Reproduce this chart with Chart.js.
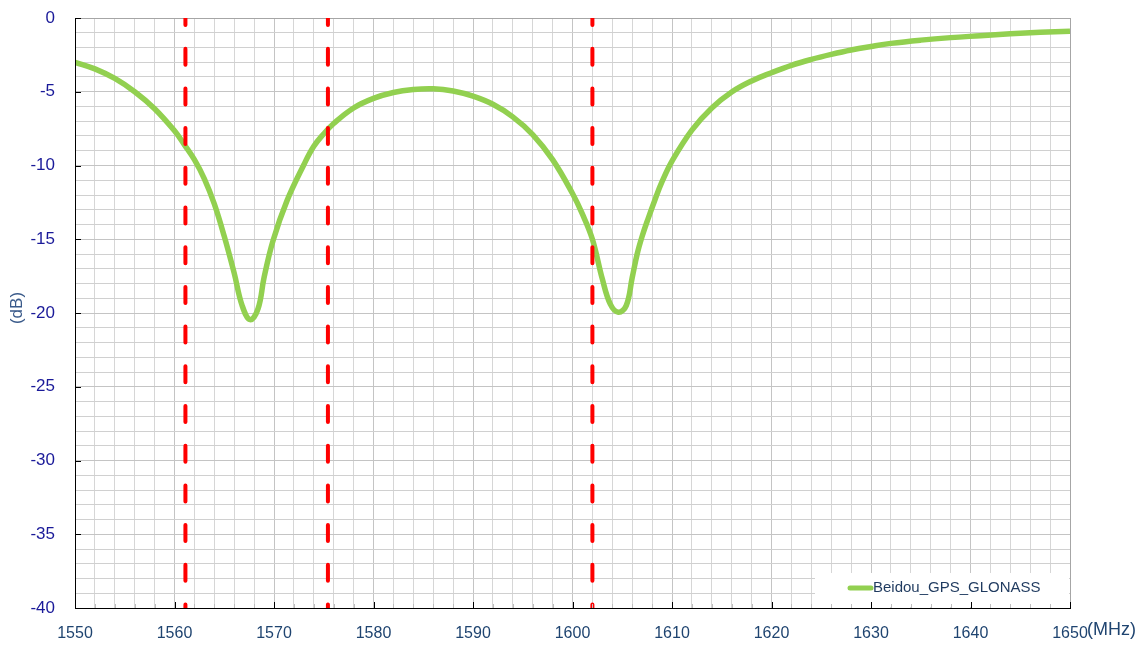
<!DOCTYPE html>
<html>
<head>
<meta charset="utf-8">
<script src="https://cdn.jsdelivr.net/npm/chart.js@4.4.1/dist/chart.umd.min.js"></script>
<style>
  html, body { margin: 0; padding: 0; background: #fff; }
  #wrap { width: 1140px; height: 645px; }
</style>
</head>
<body>
<div id="wrap"><canvas id="rlChart" width="1140" height="645"></canvas></div>
<script>
// frequency (MHz) and return loss (dB)
var freqMHz = [1550, 1552, 1554, 1556, 1558, 1560, 1561, 1562, 1563, 1564, 1565, 1566, 1566.8, 1567.6,
  1568.4, 1569, 1569.9, 1571.3, 1573, 1574, 1575, 1576, 1578, 1580, 1582, 1584, 1586, 1588, 1590,
  1592, 1594, 1596, 1598, 1600, 1601, 1602, 1603, 1603.8, 1604.6, 1605.4, 1606, 1606.5, 1607,
  1607.6, 1608.3, 1609, 1610, 1612, 1614, 1616, 1618, 1620, 1622, 1624, 1626, 1628, 1630, 1632,
  1635, 1638, 1641, 1644, 1647, 1650];
var returnLossDb = [-3.0, -3.45, -4.1, -5.0, -6.15, -7.65, -8.6, -9.6, -10.9, -12.6, -14.8, -17.3, -19.5, -20.45,
  -19.7, -17.6, -15.1, -12.4, -9.95, -8.7, -7.85, -7.15, -6.1, -5.45, -5.05, -4.85, -4.8, -4.95, -5.3,
  -5.85, -6.7, -7.9, -9.6, -11.9, -13.3, -15.0, -17.7, -19.4, -19.95, -19.5, -17.6, -16.0, -14.8,
  -13.6, -12.3, -11.1, -9.7, -7.6, -6.1, -5.02, -4.27, -3.71, -3.21, -2.81, -2.47, -2.17, -1.93, -1.72,
  -1.5, -1.33, -1.2, -1.07, -0.97, -0.9];

// band markers: Beidou B1, GPS L1, GLONASS L1
var markerFreqs = [1561.098, 1575.42, 1602];

var xMajorTicks = [1550, 1560, 1570, 1580, 1590, 1600, 1610, 1620, 1630, 1640, 1650];
var yMajorTicks = [0, -5, -10, -15, -20, -25, -30, -35, -40];
var seriesName = "Beidou_GPS_GLONASS";

var FONT = '"Liberation Sans", Arial, sans-serif';

var datasets = markerFreqs.map(function(f) {
  return {
    data: [{x: f, y: 0}, {x: f, y: -40}],
    borderColor: '#ff0000',
    borderWidth: 4,
    borderDash: [16, 23.7],
    borderDashOffset: 9,
    borderCapStyle: 'round',
    pointRadius: 0,
    tension: 0,
    order: 0
  };
});
datasets.push({
  label: seriesName,
  data: freqMHz.map(function(f, i) { return {x: f, y: returnLossDb[i]}; }),
  borderColor: '#92d050',
  borderWidth: 5.5,
  tension: 0.4,
  pointRadius: 0,
  order: 1
});

var extras = {
  id: 'extras',
  afterDatasetsDraw: function(chart) {
    var ctx = chart.ctx, ca = chart.chartArea;
    var xs = chart.scales.x, ys = chart.scales.y;
    ctx.save();

    // legend box inside bottom right corner
    var bx = ca.right - 255, by = ca.bottom - 35;
    ctx.fillStyle = '#ffffff';
    ctx.fillRect(bx, by, ca.right - bx - 1, ca.bottom - by - 1);
    ctx.strokeStyle = '#92d050';
    ctx.lineWidth = 5;
    ctx.lineCap = 'round';
    ctx.beginPath();
    ctx.moveTo(bx + 35, by + 15);
    ctx.lineTo(bx + 56, by + 15);
    ctx.stroke();
    ctx.fillStyle = '#1f3a5f';
    ctx.font = '15px ' + FONT;
    ctx.textAlign = 'left';
    ctx.textBaseline = 'middle';
    ctx.fillText(seriesName, bx + 58, by + 15);

    // inward tick marks
    ctx.lineCap = 'butt';
    ctx.lineWidth = 1;
    for (var v = 1550; v <= 1650; v += 2) {
      var px = Math.round(xs.getPixelForValue(v)) + 0.5;
      var major = xMajorTicks.indexOf(v) >= 0;
      ctx.strokeStyle = major ? '#000000' : '#bfbfbf';
      ctx.beginPath();
      ctx.moveTo(px, ca.bottom);
      ctx.lineTo(px, ca.bottom - (major ? 6 : 4));
      ctx.stroke();
    }
    yMajorTicks.forEach(function(t) {
      var py = Math.round(ys.getPixelForValue(t)) + 0.5;
      ctx.strokeStyle = '#000000';
      ctx.beginPath();
      ctx.moveTo(ca.left, py);
      ctx.lineTo(ca.left + 6, py);
      ctx.stroke();
    });
    // axis lines
    ctx.strokeStyle = '#000000';
    ctx.beginPath();
    ctx.moveTo(ca.left + 0.5, ca.top);
    ctx.lineTo(ca.left + 0.5, ca.bottom + 0.5);
    ctx.lineTo(ca.right, ca.bottom + 0.5);
    ctx.stroke();

    // axis unit labels
    ctx.fillStyle = '#1f4470';
    ctx.font = '18px ' + FONT;
    ctx.textAlign = 'left';
    ctx.fillText('(MHz)', ca.right + 17, 630);

    ctx.translate(17, 308);
    ctx.rotate(-Math.PI / 2);
    ctx.fillStyle = '#3a5a8a';
    ctx.font = '17px ' + FONT;
    ctx.textAlign = 'center';
    ctx.fillText('(dB)', 0, 0);
    ctx.restore();
  }
};

var chart = new Chart(document.getElementById('rlChart'), {
  type: 'line',
  data: {datasets: datasets},
  options: {
    responsive: false,
    animation: false,
    layout: {padding: {top: 18, right: 70, left: 0, bottom: 0}},
    plugins: {legend: {display: false}, tooltip: {enabled: false}},
    scales: {
      x: {
        type: 'linear',
        min: 1550,
        max: 1650,
        afterFit: function(s) { s.height = 37; },
        border: {color: '#000000', width: 1},
        grid: {
          drawTicks: false,
          color: function(c) {
            if (c.tick && c.tick.value === 1650) return '#a6a6a6';
            return (c.tick && c.tick.value % 10 === 0) ? '#c4c4c4' : '#d6d6d6';
          }
        },
        ticks: {
          stepSize: 2,
          autoSkip: false,
          maxRotation: 0,
          padding: 16,
          color: '#1f4470',
          font: {family: FONT, size: 16},
          callback: function(v) { return xMajorTicks.indexOf(v) >= 0 ? String(v) : ''; }
        }
      },
      y: {
        min: -40,
        max: 0,
        afterFit: function(s) {
          s.width = 75;
          s.paddingTop = 0;
          s.paddingBottom = 0;
        },
        border: {color: '#000000', width: 1},
        grid: {
          drawTicks: false,
          color: function(c) {
            if (c.tick && c.tick.value === 0) return '#a6a6a6';
            return (c.tick && c.tick.value % 5 === 0) ? '#c4c4c4' : '#d0d0d0';
          }
        },
        ticks: {
          stepSize: 1,
          autoSkip: false,
          padding: 20,
          color: '#1a1a99',
          font: {family: FONT, size: 17},
          callback: function(v) { return yMajorTicks.indexOf(v) >= 0 ? String(v) : ''; }
        }
      }
    }
  },
  plugins: [extras]
});
</script>
</body>
</html>
